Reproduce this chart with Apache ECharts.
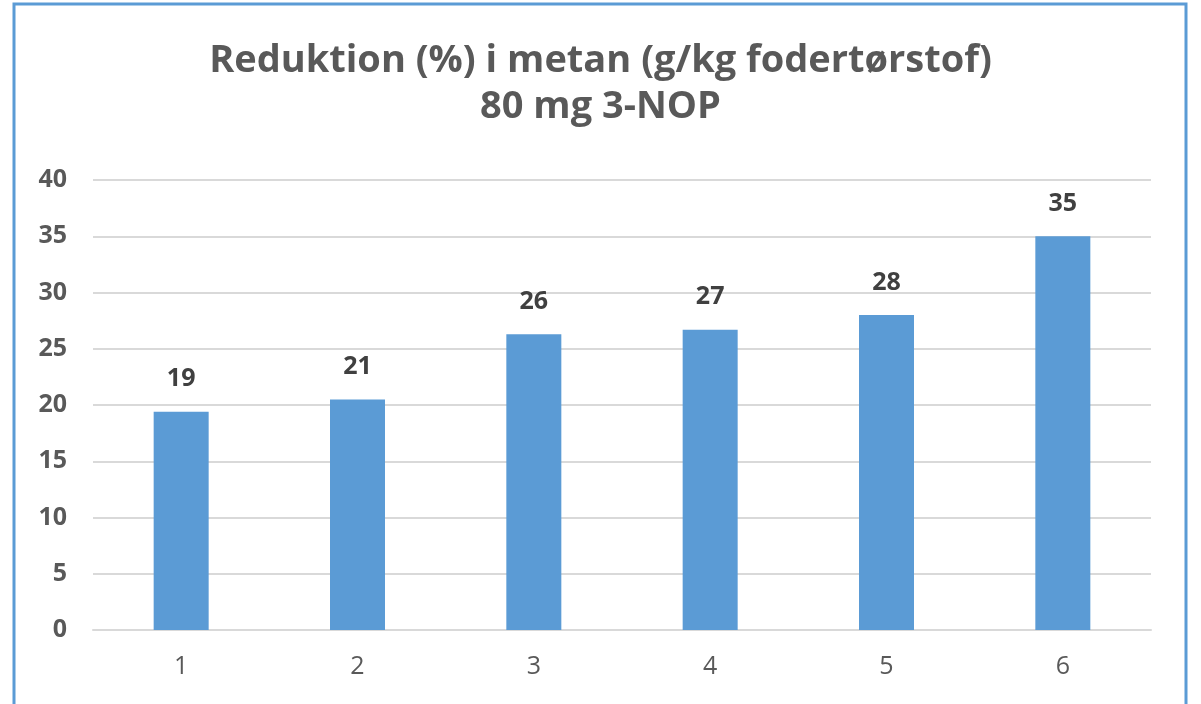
<!DOCTYPE html>
<html><head><meta charset="utf-8">
<script src="https://cdn.jsdelivr.net/npm/echarts@6/dist/echarts.min.js"></script>
<style>html,body{margin:0;padding:0;background:#fff}#c{width:1201px;height:704px}</style>
</head><body><div id="c"></div>
<script>
const titleLines = ['Reduktion (%) i metan (g/kg fodertørstof)', '80 mg 3-NOP'];
const categories = ['1', '2', '3', '4', '5', '6'];
const values = [19.4, 20.5, 26.3, 26.7, 28.0, 35.0];
const yMin = 0, yMax = 40, yStep = 5;

const chart = echarts.init(document.getElementById('c'), null, {renderer: 'canvas'});
const font = '"Open Sans", sans-serif';
chart.setOption({
  animation: false,
  backgroundColor: '#ffffff',
  title: {
    text: titleLines.join('\n'),
    left: 'center', top: 33,
    textStyle: {fontFamily: font, fontWeight: 'bold', fontSize: 38, color: '#595959', lineHeight: 46}
  },
  graphic: [{
    type: 'rect', shape: {x: 14, y: 4, width: 1172, height: 720},
    style: {fill: 'none', stroke: '#5B9BD5', lineWidth: 3}, silent: true
  }],
  grid: {left: 93, right: 50, top: 180, bottom: 74, containLabel: false},
  xAxis: {
    type: 'category', data: categories,
    axisLine: {show: true, lineStyle: {color: '#d9d9d9', width: 2}},
    axisTick: {show: false},
    axisLabel: {fontFamily: font, fontSize: 25, color: '#595959', margin: 24}
  },
  yAxis: {
    type: 'value', min: yMin, max: yMax, interval: yStep,
    axisLine: {show: false}, axisTick: {show: false},
    splitLine: {lineStyle: {color: '#d9d9d9', width: 2}},
    axisLabel: {fontFamily: font, fontSize: 25, fontWeight: 'bold', color: '#595959', margin: 26}
  },
  series: [{
    type: 'bar', data: values, barWidth: 55,
    itemStyle: {color: '#5B9BD5'},
    label: {show: true, position: 'top', distance: 20,
      formatter: p => Math.round(p.value),
      fontFamily: font, fontSize: 25, fontWeight: 'bold', color: '#404040'}
  }]
});
</script></body></html>
